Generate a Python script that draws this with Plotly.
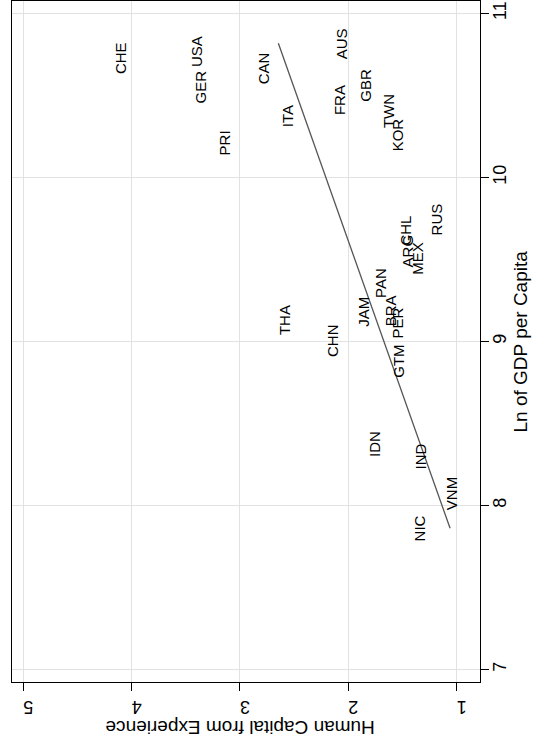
import numpy as np
import plotly.graph_objects as go

# Data read from the (rotated) reference chart
countries = ["CHE", "USA", "GER", "PRI", "CAN", "AUS", "ITA", "FRA", "GBR", "TWN",
             "KOR", "RUS", "CHL", "ARG", "MEX", "PAN", "BRA", "PER", "JAM", "THA",
             "CHN", "GTM", "IDN", "IND", "VNM", "NIC"]
human_capital = [4.107, 3.40, 3.362, 3.147, 2.787, 2.055, 2.561, 2.086, 1.839, 1.631,
                 1.548, 1.178, 1.470, 1.453, 1.363, 1.701, 1.609, 1.548, 1.855, 2.593,
                 2.148, 1.532, 1.763, 1.332, 1.045, 1.347]
ln_gdp = [10.727, 10.768, 10.552, 10.207, 10.665, 10.813, 10.370, 10.471, 10.563, 10.406,
          10.258, 9.746, 9.674, 9.552, 9.506, 9.354, 9.187, 9.110, 9.180, 9.130,
          9.004, 8.876, 8.374, 8.296, 8.073, 7.860]

# Fitted line: endpoints at min/max of ln GDP
fit_ln = [7.860, 10.817]
fit_hc = [1.061, 2.646]

hc_ticks = [1, 2, 3, 4, 5]
gdp_ticks = [7, 8, 9, 10, 11]

FONT = "Liberation Sans, Arial, Helvetica, sans-serif"

fig = go.Figure()
fig.add_trace(go.Scatter(x=fit_hc, y=fit_ln, mode="lines",
                         line=dict(color="#555555", width=1.3),
                         showlegend=False, hoverinfo="skip"))

annotations = []
for name, hc, g in zip(countries, human_capital, ln_gdp):
    annotations.append(dict(x=hc, y=g, xref="x", yref="y", text=name,
                            showarrow=False, textangle=-90,
                            font=dict(family=FONT, size=15, color="black"),
                            xanchor="center", yanchor="middle"))

annotations.append(dict(x=0.487, y=-0.066, xref="paper", yref="paper",
                        text="Human Capital from Experience", showarrow=False,
                        textangle=180, font=dict(family=FONT, size=19, color="black"),
                        xanchor="center", yanchor="middle"))
annotations.append(dict(x=1.0876, y=0.5, xref="paper", yref="paper",
                        text="Ln of GDP per Capita", showarrow=False,
                        textangle=-90, font=dict(family=FONT, size=19, color="black"),
                        xanchor="center", yanchor="middle"))

fig.update_layout(
    width=536, height=746,
    margin=dict(l=12, r=56, t=1, b=64, autoexpand=False),
    paper_bgcolor="white", plot_bgcolor="white",
    annotations=annotations,
    font=dict(family=FONT, color="black"),
    xaxis=dict(range=[5.104, 0.785], tickvals=hc_ticks, ticktext=[str(t) for t in hc_ticks],
               tickangle=180, ticks="outside", ticklen=8, tickcolor="black",
               ticklabelstandoff=6,
               showline=True, linecolor="black", linewidth=1.2, mirror=True,
               showgrid=True, gridcolor="#e2e2e2", gridwidth=1, zeroline=False,
               tickfont=dict(family=FONT, size=18, color="black")),
    yaxis=dict(range=[6.923, 11.075], tickvals=gdp_ticks, ticktext=[str(t) for t in gdp_ticks],
               side="right", tickangle=-90, ticks="outside", ticklen=8, tickcolor="black",
               ticklabelstandoff=-5,
               showline=True, linecolor="black", linewidth=1.2, mirror=True,
               showgrid=True, gridcolor="#e2e2e2", gridwidth=1, zeroline=False,
               tickfont=dict(family=FONT, size=18, color="black")),
)

fig.write_html("out.html", config={"displayModeBar": False},
               post_script="document.body.style.margin='0';")
